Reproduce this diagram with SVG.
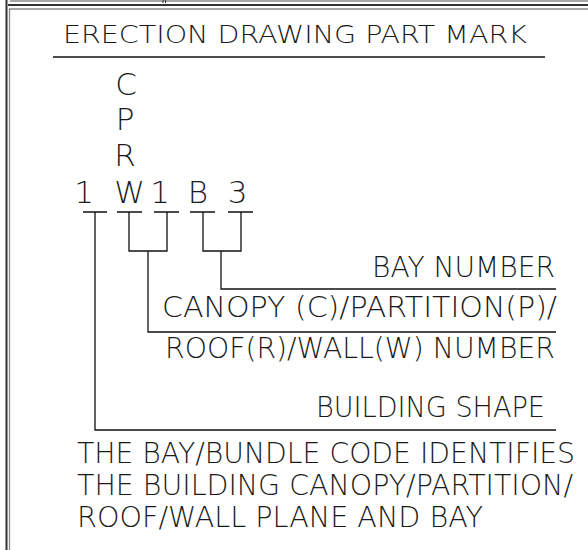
<svg xmlns="http://www.w3.org/2000/svg" width="588" height="550" viewBox="0 0 588 550">
<style>
.t{font-family:"DejaVu Sans","Liberation Sans",sans-serif;font-weight:200;fill:#1a1a1a;}
.big{font-size:31px;}
.mid{font-size:27.5px;}
.ttl{font-size:24.5px;}
.ln{stroke:#111;stroke-width:1.3;fill:none;}
.b1{stroke:#333;stroke-width:2;}
.b2{stroke:#888;stroke-width:1.3;}
</style>
<rect width="588" height="550" fill="#fff"/>
<g id="border">
<line class="b1" x1="6.5" y1="0" x2="6.5" y2="550"/>
<line class="b2" x1="9.5" y1="9" x2="9.5" y2="550"/>
<line class="b2" x1="10" y1="1" x2="588" y2="1"/>
<line class="b1" x1="8" y1="5" x2="588" y2="5"/>
<line class="b2" x1="9" y1="9" x2="588" y2="9"/>
<line class="b1" x1="163" y1="0" x2="163" y2="3" style="stroke-width:1"/>
<line class="b1" x1="165.5" y1="0" x2="165.5" y2="3" style="stroke-width:1"/>
</g>
<g id="title">
<text class="t ttl" x="63" y="43" textLength="464" lengthAdjust="spacingAndGlyphs">ERECTION DRAWING PART MARK</text>
<line class="ln" x1="53" y1="57" x2="545" y2="57"/>
</g>
<g id="mark">
<text class="t big" x="126" y="95" text-anchor="middle">C</text>
<text class="t big" x="125" y="130" text-anchor="middle">P</text>
<text class="t big" x="125" y="166" text-anchor="middle">R</text>
<text class="t big" x="84" y="203" text-anchor="middle">1</text>
<text class="t big" x="129.5" y="203" text-anchor="middle">W</text>
<text class="t big" x="160" y="203" text-anchor="middle">1</text>
<text class="t big" x="198" y="203" text-anchor="middle">B</text>
<text class="t big" x="237.5" y="203" text-anchor="middle">3</text>
</g>
<g id="connectors">
<path class="ln" d="M83,212H107M95,212V430H556"/>
<path class="ln" d="M117,212H142M154,212H179M129,212V251H167V212M148,251V332H556"/>
<path class="ln" d="M190,212H215M228,212H253M203,212V251H241V212M221,251V289H556"/>
</g>
<g id="bay-number">
<text class="t mid" x="372" y="277" textLength="183" lengthAdjust="spacingAndGlyphs">BAY NUMBER</text>
</g>
<g id="canopy-label">
<text class="t mid" x="162" y="317" textLength="395" lengthAdjust="spacingAndGlyphs">CANOPY (C)/PARTITION(P)/</text>
<text class="t mid" x="165" y="358" textLength="390" lengthAdjust="spacingAndGlyphs">ROOF(R)/WALL(W) NUMBER</text>
</g>
<g id="building-shape">
<text class="t mid" x="316" y="417" textLength="229" lengthAdjust="spacingAndGlyphs">BUILDING SHAPE</text>
</g>
<g id="note">
<text class="t mid" x="77" y="463" textLength="498" lengthAdjust="spacingAndGlyphs">THE BAY/BUNDLE CODE IDENTIFIES</text>
<text class="t mid" x="77" y="495" textLength="496" lengthAdjust="spacingAndGlyphs">THE BUILDING CANOPY/PARTITION/</text>
<text class="t mid" x="77" y="527" textLength="406" lengthAdjust="spacingAndGlyphs">ROOF/WALL PLANE AND BAY</text>
</g>
</svg>
